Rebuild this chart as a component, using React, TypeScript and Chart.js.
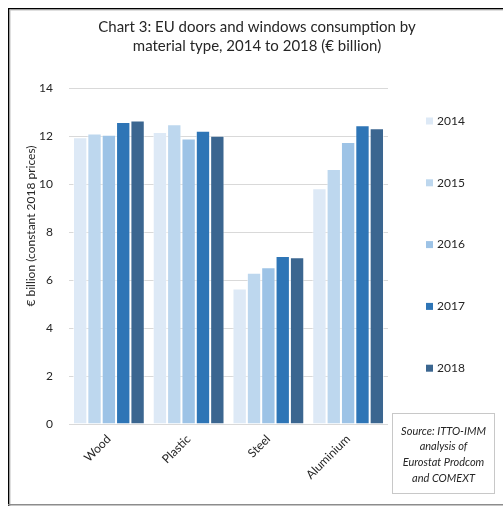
import React, { useEffect, useRef } from "react";
import { Chart, registerables } from "chart.js";

Chart.register(...registerables);

const categories = ["Wood", "Plastic", "Steel", "Aluminium"];
const years = ["2014", "2015", "2016", "2017", "2018"];
const values2014 = [11.95, 12.17, 5.65, 9.82];
const values2015 = [12.1, 12.49, 6.3, 10.62];
const values2016 = [12.05, 11.9, 6.53, 11.75];
const values2017 = [12.58, 12.22, 7.0, 12.45];
const values2018 = [12.65, 12.01, 6.95, 12.32];
const seriesValues = [values2014, values2015, values2016, values2017, values2018];
const colors = ["#dde9f6", "#bdd7ee", "#9dc3e6", "#2e75b6", "#3b6690"];
const yTicks = [0, 2, 4, 6, 8, 10, 12, 14];
const titleLines = [
  "Chart 3: EU doors and windows consumption by",
  "material type, 2014 to 2018 (€ billion)",
];
const yAxisTitle = "€ billion (constant 2018 prices)";
const sourceLines = ["Source: ITTO-IMM", "analysis of", "Eurostat Prodcom", "and COMEXT"];

const FONT = "Lato, 'Open Sans', sans-serif";

const decorPlugin = {
  id: "decor",
  beforeDraw(chart: any) {
    const ctx = chart.ctx;
    ctx.save();
    ctx.fillStyle = "#ffffff";
    ctx.fillRect(0, 0, chart.width, chart.height);
    // frame
    ctx.fillStyle = "#000000";
    ctx.fillRect(8, 8, chart.width - 8, 1.5);
    ctx.fillRect(8, 8, 1.5, chart.height - 8);
    ctx.fillStyle = "#bfbfbf";
    ctx.fillRect(9.5, 9.5, chart.width - 9.5, 1);
    ctx.fillRect(9.5, 9.5, 1, chart.height - 9.5);
    ctx.fillStyle = "#8c8c8c";
    ctx.fillRect(8, chart.height - 2, chart.width - 8, 1.5);
    ctx.restore();
  },
  afterDraw(chart: any) {
    const ctx = chart.ctx;
    const area = chart.chartArea;
    ctx.save();
    // title
    ctx.fillStyle = "#262626";
    ctx.font = `15px ${FONT}`;
    ctx.textAlign = "center";
    ctx.textBaseline = "middle";
    titleLines.forEach((t, i) => ctx.fillText(t, 257, 27 + i * 19));
    // y axis title
    ctx.save();
    ctx.translate(31, 226);
    ctx.rotate(-Math.PI / 2);
    ctx.font = `12px ${FONT}`;
    ctx.fillStyle = "#262626";
    ctx.fillText(yAxisTitle, 0, 0);
    ctx.restore();
    // legend
    ctx.font = `12px ${FONT}`;
    ctx.textAlign = "left";
    chart.data.datasets.forEach((ds: any, i: number) => {
      const cy = 121 + i * 61.8;
      ctx.fillStyle = ds.backgroundColor;
      ctx.fillRect(area.right + 38, cy - 3.5, 7, 7);
      ctx.fillStyle = "#262626";
      ctx.fillText(ds.label, area.right + 49, cy);
    });
    // source box
    ctx.strokeStyle = "#c8c8c8";
    ctx.lineWidth = 1;
    ctx.strokeRect(392.5, 413.5, 102, 80);
    ctx.font = `italic 11px ${FONT}`;
    ctx.textAlign = "center";
    ctx.fillStyle = "#262626";
    sourceLines.forEach((t, i) => ctx.fillText(t, 443.5, 431 + i * 15.7));
    ctx.restore();
  },
};

export default function App() {
  const ref = useRef<HTMLCanvasElement | null>(null);
  useEffect(() => {
    if (!ref.current) return;
    const chart = new Chart(ref.current, {
      type: "bar",
      data: {
        labels: categories,
        datasets: years.map((y, i) => ({
          label: y,
          data: seriesValues[i],
          backgroundColor: colors[i],
          borderColor: "rgba(255,255,255,0.55)",
          borderWidth: 1,
          categoryPercentage: 0.9,
          barPercentage: 1.0,
        })),
      },
      options: {
        animation: false,
        responsive: false,
        maintainAspectRatio: false,
        layout: { padding: { left: 10, top: 88, right: 115, bottom: 0 } },
        plugins: { legend: { display: false }, tooltip: { enabled: false }, title: { display: false } },
        scales: {
          x: {
            grid: { display: false, drawTicks: false },
            border: { display: false },
            ticks: {
              font: { family: FONT, size: 12 },
              color: "#262626",
              maxRotation: 45,
              minRotation: 45,
              padding: 8,
            },
            afterFit: (s: any) => {
              s.height = 82;
            },
          },
          y: {
            min: 0,
            max: 14,
            afterBuildTicks: (s: any) => {
              s.ticks = yTicks.map((v) => ({ value: v }));
            },
            grid: { color: "#d9d9d9", drawTicks: false, lineWidth: 1 },
            border: { display: false },
            ticks: {
              font: { family: FONT, size: 12 },
              color: "#262626",
              padding: 16,
            },
            afterFit: (s: any) => {
              s.width = 59;
            },
          },
        },
      },
      plugins: [decorPlugin],
    });
    return () => chart.destroy();
  }, []);
  return (
    <div style={{ position: "fixed", left: 0, top: 0, width: 503, height: 506, background: "#fff" }}>
      <canvas ref={ref} width={503} height={506} style={{ width: 503, height: 506 }} />
    </div>
  );
}
